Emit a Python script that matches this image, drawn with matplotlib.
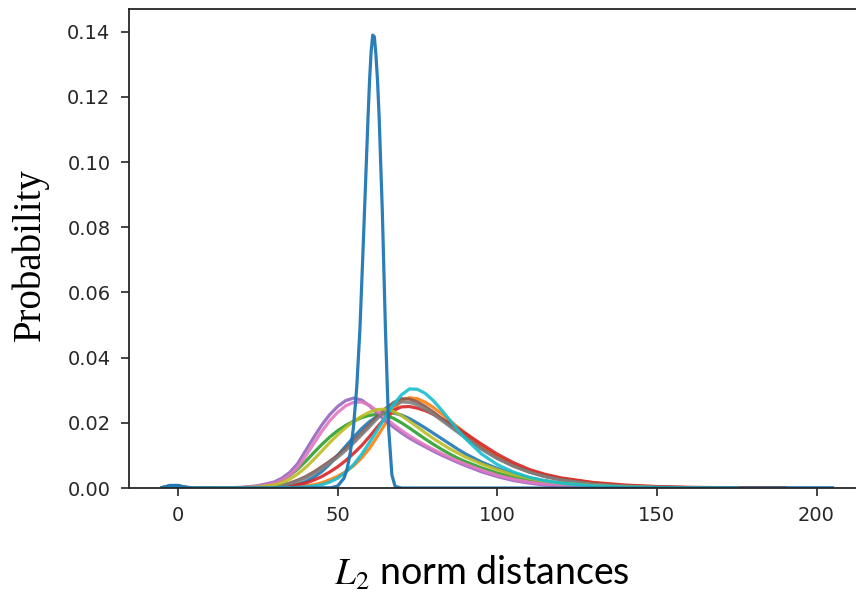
import numpy as np
import matplotlib
matplotlib.use("Agg")
import matplotlib.pyplot as plt

# ---- data (y in units of 1e-3) ----
X = [-5, -2.5, 0, 2.5, 5, 10, 20, 25,
     30, 32.5, 35, 37.5, 40, 42.5, 45, 47.5, 50, 52.5, 55, 57.5, 60, 62.5, 65,
     67.5, 70, 72.5, 75, 77.5, 80, 82.5, 85, 87.5, 90,
     95, 100, 105, 110, 115, 120, 130, 140, 150, 160, 175, 190, 205]
nan = float("nan")

blue_wide = [0.1, 0.6, 0.6, 0.2, 0, 0, 0, 0.05,
             0.15, 0.3, 0.6, 1.1, 2.0, 3.3, 5.0, 7.3, 10.0, 12.8, 15.6, 18.2, 20.4, 22.0, 22.9,
             23.0, 22.4, 21.3, 19.9, 18.4, 16.8, 15.2, 13.6, 12.0, 10.5,
             8.0, 6.0, 4.4, 3.1, 2.2, 1.5, 0.7, 0.3, 0.15, 0.08, 0.05, 0.03, 0.0]
orange = [0.05, 0.3, 0.3, 0.1, 0, 0, 0, 0.05,
          0.1, 0.15, 0.25, 0.4, 0.6, 1.0, 1.6, 2.5, 3.6, 5.0, 6.8, 9.2, 12.2, 15.9, 19.8,
          24.0, 26.9, 27.7, 27.4, 26.3, 24.7, 22.8, 20.8, 18.8, 16.8,
          12.9, 9.7, 7.2, 5.3, 3.9, 2.9, 1.6, 0.8, 0.35, 0.15, 0.05, nan, nan]
green = [0.1, 0.7, 0.7, 0.2, 0, 0, 0.1, 0.5,
         1.4, 2.4, 3.8, 5.8, 8.2, 10.8, 13.3, 15.6, 17.6, 19.2, 20.5, 21.6, 22.3, 22.6, 22.3,
         21.4, 20.0, 18.4, 16.7, 15.0, 13.4, 11.9, 10.5, 9.2, 8.1,
         6.2, 4.6, 3.4, 2.4, 1.7, 1.1, 0.5, 0.25, 0.12, 0.06, 0.04, 0.03, nan]
red = [0.05, 0.3, 0.3, 0.1, 0, 0, 0, 0.1,
       0.2, 0.35, 0.6, 1.0, 1.5, 2.4, 3.5, 4.9, 6.5, 8.4, 10.6, 13.0, 15.8, 18.8, 21.6,
       23.8, 24.9, 25.0, 24.5, 23.7, 22.6, 21.3, 19.9, 18.4, 16.8,
       13.5, 10.4, 7.8, 5.7, 4.2, 3.1, 1.7, 0.9, 0.45, 0.2, 0.08, 0.04, nan]
purple = [0.1, 0.6, 0.6, 0.2, 0, 0, 0.2, 0.7,
          1.8, 3.0, 4.8, 7.5, 11.5, 15.5, 19.3, 22.5, 25.0, 26.8, 27.6, 27.0, 25.2, 22.8, 20.6,
          18.7, 16.9, 15.3, 13.9, 12.6, 11.3, 10.1, 9.0, 7.9, 6.9,
          5.0, 3.5, 2.3, 1.5, 0.9, 0.6, 0.25, 0.1, 0.05, 0.02, 0.01, nan, nan]
brown = [0.1, 0.4, 0.4, 0.1, 0, 0, 0.05, 0.2,
         0.5, 0.9, 1.5, 2.4, 3.5, 4.9, 6.5, 8.2, 10.0, 12.1, 14.4, 16.9, 19.4, 22.0, 24.4,
         26.2, 27.4, 27.3, 26.4, 25.0, 23.3, 21.4, 19.5, 17.6, 15.7,
         12.2, 9.2, 6.8, 4.9, 3.5, 2.5, 1.2, 0.55, 0.25, 0.12, 0.05, nan, nan]
pink = [0.1, 0.5, 0.5, 0.2, 0, 0, 0.15, 0.5,
        1.4, 2.4, 3.9, 6.3, 9.8, 13.6, 17.3, 20.6, 23.2, 25.2, 26.3, 26.4, 25.4, 23.5, 21.4,
        19.5, 17.7, 16.0, 14.5, 13.1, 11.8, 10.6, 9.4, 8.3, 7.3,
        5.5, 3.9, 2.7, 1.8, 1.2, 0.8, 0.3, 0.12, 0.05, 0.02, 0.01, nan, nan]
gray = [0.1, 0.4, 0.4, 0.1, 0, 0, 0.05, 0.15,
        0.4, 0.8, 1.3, 2.1, 3.1, 4.4, 5.9, 7.6, 9.4, 11.5, 13.8, 16.3, 18.8, 21.4, 23.6,
        25.3, 26.4, 26.3, 25.5, 24.2, 22.6, 20.8, 19.0, 17.2, 15.4,
        11.9, 9.0, 6.7, 4.9, 3.5, 2.5, 1.2, 0.55, 0.25, 0.12, 0.05, nan, nan]
olive = [0.1, 0.5, 0.5, 0.2, 0, 0, 0.1, 0.3,
         0.9, 1.6, 2.7, 4.3, 6.3, 8.7, 11.3, 13.9, 16.3, 18.5, 20.4, 22.0, 23.3, 24.1, 24.2,
         23.5, 22.2, 20.5, 18.7, 16.9, 15.2, 13.6, 12.1, 10.8, 9.5,
         7.4, 5.6, 4.1, 3.0, 2.1, 1.5, 0.7, 0.3, 0.15, 0.07, 0.03, nan, nan]
cyan = [0.05, 0.3, 0.3, 0.1, 0, 0, 0, 0.02,
        0.05, 0.08, 0.12, 0.2, 0.35, 0.6, 1.0, 1.8, 3.0, 4.8, 7.2, 10.3, 14.0, 17.9, 21.8,
        25.6, 28.6, 30.4, 30.3, 29.0, 26.8, 24.0, 21.0, 18.0, 15.2,
        10.5, 7.2, 4.9, 3.3, 2.2, 1.5, 0.65, 0.28, 0.12, 0.06, 0.03, nan, nan]

NX = [-5, -2.5, 0, 2.5, 5, 10, 40, 48, 50, 52, 53, 54, 55, 56, 57, 58, 59, 59.5, 60,
      60.5, 61, 61.5, 62, 62.5, 63, 64, 65, 66, 67, 68, 70, 100, 150, 205]
blue_narrow = [0.1, 0.8, 0.8, 0.2, 0, 0, 0, 0.1, 0.6, 3, 6, 11, 19, 31, 49, 74, 100, 113, 125,
               134, 139, 138.5, 133, 125, 114, 85, 48, 18, 4, 0.5, 0, 0, 0, 0]

series = [blue_wide, orange, green, red, purple, brown, pink, gray, olive, cyan]
colors = ["#1f77b4", "#ff7f0e", "#2ca02c", "#d62728", "#9467bd",
          "#8c564b", "#e377c2", "#7f7f7f", "#bcbd22", "#17becf"]

# ---- figure ----
W, H = 856, 596
fig = plt.figure(figsize=(W / 100, H / 100), dpi=100)
left_px, right_px, top_px, bot_px = 128.5, 866.0, 9.0, 488.0
ax = fig.add_axes([left_px / W, 1 - bot_px / H, (right_px - left_px) / W, (bot_px - top_px) / H])

xs = np.array(X)
for ys, c in zip(series, colors):
    ax.plot(xs, np.array(ys) / 1000.0, color=c, lw=2.3, alpha=0.9, solid_joinstyle="round")
ax.plot(np.array(NX), np.array(blue_narrow) / 1000.0, color="#1f77b4", lw=2.3, alpha=0.95,
        solid_joinstyle="round")

ax.set_xlim(-15.5, 215.5)
ax.set_ylim(0, 0.147)
ax.set_xticks([0, 50, 100, 150, 200])
ax.set_yticks([0.0, 0.02, 0.04, 0.06, 0.08, 0.10, 0.12, 0.14])
ax.set_yticklabels(["0.00", "0.02", "0.04", "0.06", "0.08", "0.10", "0.12", "0.14"])
ax.tick_params(axis="both", labelsize=14, labelcolor="#262626", color="#262626",
               length=6, width=1.2, pad=7)
for s in ax.spines.values():
    s.set_linewidth(1.3)
    s.set_color("#262626")

plt.rcParams["mathtext.fontset"] = "stix"
fig.text(30 / W, 1 - 255 / H, "Probability", rotation=90, ha="center", va="center",
         fontsize=28, family=["Liberation Serif", "DejaVu Serif"], color="black")
fig.text(482 / W, 1 - 585 / H, r"$L_2$ norm distances", ha="center", va="baseline",
         fontsize=27, family=["Lato", "DejaVu Sans"], color="black")

fig.savefig("out.png", dpi=100)
